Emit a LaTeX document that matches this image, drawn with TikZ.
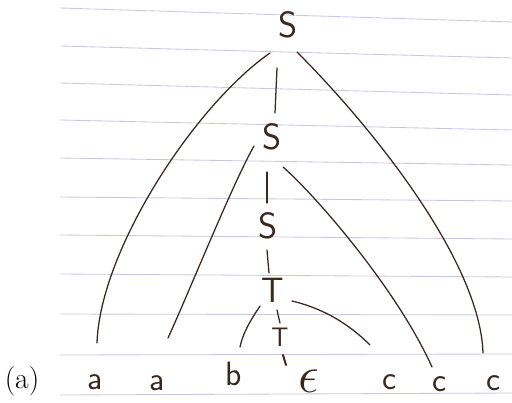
\documentclass[tikz,border=0pt]{standalone}
\usepackage{fontspec}
\usepackage{graphicx}
\definecolor{ink}{RGB}{58,40,30}
\definecolor{ruled}{RGB}{200,200,228}
\begin{document}
\begin{tikzpicture}[x=0.025cm, y=-0.025cm,
    every node/.style={inner sep=0pt, text=ink},
    sym/.style={font=\sffamily\fontsize{26}{28}\selectfont},
    small/.style={font=\sffamily\fontsize{19}{21}\selectfont},
    leaf/.style={font=\sffamily\fontsize{24}{26}\selectfont},
    edge/.style={draw=ink, line width=0.9pt, line cap=round},
    rule/.style={draw=ruled, line width=0.6pt}
  ]
    \useasboundingbox (0,0) rectangle (512,402);

    % lined paper
    \foreach \l/\r in {8/22, 46/58, 83/95, 120/130, 158/165, 197/201, 235/239, 274/277, 314/315, 355/354, 395/393} {
      \draw[rule] (60,\l) -- (512,\r);
    }

    % inner nodes
    \node[sym] (s1) at (288,25) {S};
    \node[sym] (s2) at (272,137) {S};
    \node[sym] (s3) at (268,226) {S};
    \node[sym, font=\sffamily\fontsize{25}{27}\selectfont] (t1) at (273,290) {T};
    \node[small] (t2) at (280,337) {T};

    % leaves
    \node[leaf] (a1) at (95,382) {a};
    \node[leaf] (a2) at (157,383) {a};
    \node[leaf] (b) at (234,374) {b};
    \node[leaf] (eps) at (309,381) {\scalebox{1.5}{$\epsilon$}};
    \node[leaf] (c1) at (390,382) {c};
    \node[leaf] (c2) at (440,384) {c};
    \node[leaf] (c3) at (494,383) {c};
    \node[font=\fontsize{21}{23}\selectfont, text=black] (lbl) at (22,381) {(a)};

    \draw[edge] ([shift={(-18,28)}]s1.center) .. controls (195,105) and (100,250) .. ([shift={(2,-39)}]a1.center);
    \draw[edge] ([shift={(-11,43)}]s1.center) -- ([shift={(3,-24)}]s2.center);
    \draw[edge] ([shift={(9,27)}]s1.center) .. controls (370,125) and (480,260) .. ([shift={(-11,-30)}]c3.center);
    \draw[edge] ([shift={(-18,9)}]s2.center) .. controls (232,185) and (190,290) .. ([shift={(11,-45)}]a2.center);
    \draw[edge] ([shift={(-5,35)}]s2.center) -- ([shift={(-1,-23)}]s3.center);
    \draw[edge] ([shift={(11,30)}]s2.center) .. controls (310,190) and (395,285) .. ([shift={(-8,-17)}]c2.center);
    \draw[edge] ([shift={(-1,24)}]s3.center) -- ([shift={(-4,-17)}]t1.center);
    \draw[edge] ([shift={(-13,16)}]t1.center) .. controls (252,318) and (243,332) .. ([shift={(6,-27)}]b.center);
    \draw[edge] ([shift={(4,20)}]t1.center) -- ([shift={(0,-14)}]t2.center);
    \draw[edge] ([shift={(19,11)}]t1.center) .. controls (330,310) and (355,330) .. ([shift={(-20,-37)}]c1.center);
    \draw[edge, line width=1.4pt] ([shift={(3,18)}]t2.center) -- ([shift={(-23,-16)}]eps.center);
  \end{tikzpicture}
\end{document}
